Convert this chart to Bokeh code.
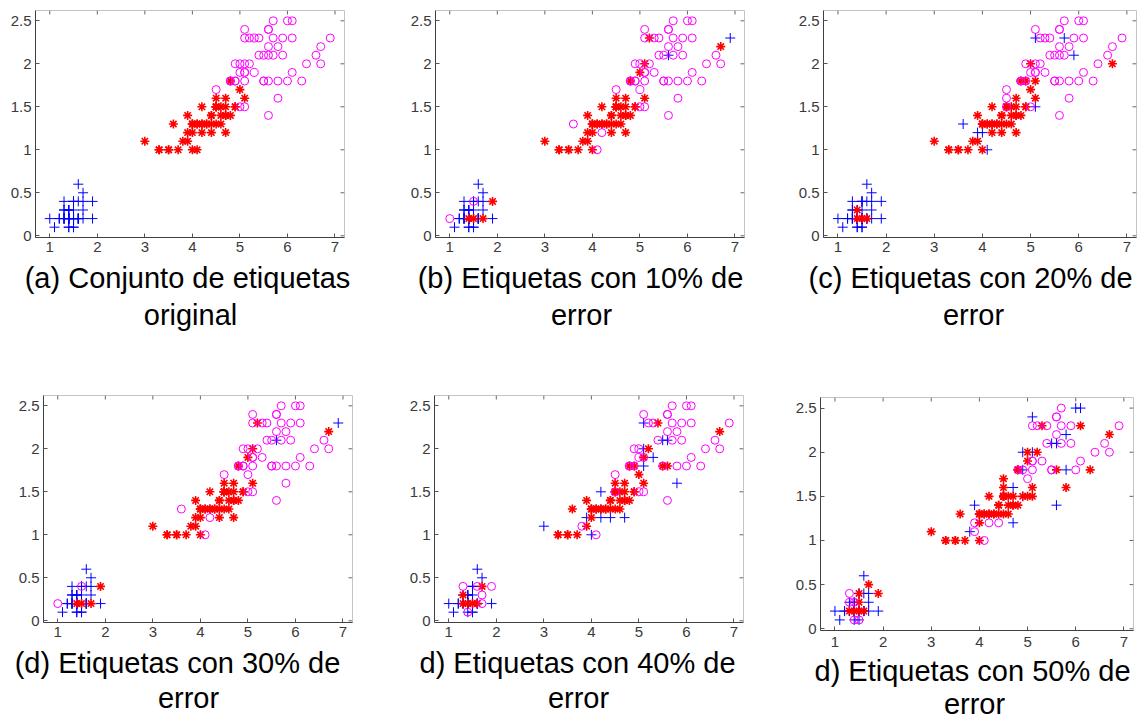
from bokeh.plotting import figure
from bokeh.layouts import row, column
from bokeh.models import Range1d, LinearAxis, FixedTicker, Title, ColumnDataSource
from bokeh.embed import file_html
from bokeh.resources import INLINE

# Iris petal length / petal width (setosa, versicolor, virginica)
petal_length = [
    1.4, 1.4, 1.3, 1.5, 1.4, 1.7, 1.4, 1.5, 1.4, 1.5, 1.5, 1.6, 1.4, 1.1, 1.2, 1.5, 1.3, 1.4, 1.7, 1.5,
    1.7, 1.5, 1.0, 1.7, 1.9, 1.6, 1.6, 1.5, 1.4, 1.6, 1.6, 1.5, 1.5, 1.4, 1.5, 1.2, 1.3, 1.4, 1.3, 1.5,
    1.3, 1.3, 1.3, 1.6, 1.9, 1.4, 1.6, 1.4, 1.5, 1.4,
    4.7, 4.5, 4.9, 4.0, 4.6, 4.5, 4.7, 3.3, 4.6, 3.9, 3.5, 4.2, 4.0, 4.7, 3.6, 4.4, 4.5, 4.1, 4.5, 3.9,
    4.8, 4.0, 4.9, 4.7, 4.3, 4.4, 4.8, 5.0, 4.5, 3.5, 3.8, 3.7, 3.9, 5.1, 4.5, 4.5, 4.7, 4.4, 4.1, 4.0,
    4.4, 4.6, 4.0, 3.3, 4.2, 4.2, 4.2, 4.3, 3.0, 4.1,
    6.0, 5.1, 5.9, 5.6, 5.8, 6.6, 4.5, 6.3, 5.8, 6.1, 5.1, 5.3, 5.5, 5.0, 5.1, 5.3, 5.5, 6.7, 6.9, 5.0,
    5.7, 4.9, 6.7, 4.9, 5.7, 6.0, 4.8, 4.9, 5.6, 5.8, 6.1, 6.4, 5.6, 5.1, 5.6, 6.1, 5.6, 5.5, 4.8, 5.4,
    5.6, 5.1, 5.1, 5.9, 5.7, 5.2, 5.0, 5.2, 5.4, 5.1,
]
petal_width = [
    0.2, 0.2, 0.2, 0.2, 0.2, 0.4, 0.3, 0.2, 0.2, 0.1, 0.2, 0.2, 0.1, 0.1, 0.2, 0.4, 0.4, 0.3, 0.3, 0.3,
    0.2, 0.4, 0.2, 0.5, 0.2, 0.2, 0.4, 0.2, 0.2, 0.2, 0.2, 0.4, 0.1, 0.2, 0.2, 0.2, 0.2, 0.1, 0.2, 0.2,
    0.3, 0.3, 0.2, 0.6, 0.4, 0.3, 0.2, 0.2, 0.2, 0.2,
    1.4, 1.5, 1.5, 1.3, 1.5, 1.3, 1.6, 1.0, 1.3, 1.4, 1.0, 1.5, 1.0, 1.4, 1.3, 1.4, 1.5, 1.0, 1.5, 1.1,
    1.8, 1.3, 1.5, 1.2, 1.3, 1.4, 1.4, 1.7, 1.5, 1.0, 1.1, 1.0, 1.2, 1.6, 1.5, 1.6, 1.5, 1.3, 1.3, 1.3,
    1.2, 1.4, 1.2, 1.0, 1.3, 1.2, 1.3, 1.3, 1.1, 1.3,
    2.5, 1.9, 2.1, 1.8, 2.2, 2.1, 1.7, 1.8, 1.8, 2.5, 2.0, 1.9, 2.1, 2.0, 2.4, 2.3, 1.8, 2.2, 2.3, 1.5,
    2.3, 2.0, 2.0, 1.8, 2.1, 1.8, 1.8, 1.8, 2.1, 1.6, 1.9, 2.0, 2.2, 1.5, 1.4, 2.3, 2.4, 1.8, 1.8, 2.1,
    2.4, 2.3, 1.9, 2.3, 2.5, 2.3, 1.9, 2.0, 2.3, 1.8,
]
true_labels = [1] * 50 + [2] * 50 + [3] * 50

# label changes: (petal length, petal width, new label)
flips_b = [(1.0, 0.2, 3), (1.5, 0.4, 3), (1.4, 0.2, 2), (1.5, 0.2, 2), (1.7, 0.2, 2), (1.9, 0.4, 2),
           (3.6, 1.3, 3), (4.2, 1.2, 3), (4.1, 1.0, 3), (5.0, 1.7, 3),
           (5.2, 2.3, 2), (6.9, 2.3, 1), (6.7, 2.2, 2), (5.6, 2.1, 1), (5.1, 2.0, 2), (5.0, 1.9, 2)]
flips_c = [(1.4, 0.3, 2), (1.4, 0.2, 2), (1.5, 0.2, 2), (1.6, 0.2, 2),
           (3.6, 1.3, 1), (3.9, 1.2, 1), (4.0, 1.2, 1), (4.1, 1.0, 1), (4.5, 1.6, 3), (4.5, 1.5, 3),
           (5.1, 1.5, 1), (4.9, 1.8, 2), (5.1, 1.8, 2), (5.0, 2.0, 2), (5.1, 2.3, 1), (5.7, 2.3, 1),
           (5.9, 2.1, 1), (6.7, 2.0, 2)]
flips_d = [(1.0, 0.2, 3), (1.5, 0.4, 3), (1.4, 0.2, 2), (1.5, 0.2, 2), (1.7, 0.2, 2), (1.9, 0.4, 2),
           (3.6, 1.3, 3), (4.2, 1.2, 3), (4.1, 1.0, 3), (5.0, 1.7, 3),
           (5.2, 2.3, 2), (6.9, 2.3, 1), (6.7, 2.2, 2), (5.6, 2.1, 1), (5.1, 2.0, 2), (5.0, 1.9, 2)]
flips_e = [(1.3, 0.4, 3), (1.6, 0.4, 3), (1.7, 0.4, 2), (1.9, 0.4, 3), (1.3, 0.3, 2), (1.7, 0.3, 3),
           (1.3, 0.2, 2), (1.4, 0.2, 2), (1.5, 0.2, 2), (1.6, 0.2, 2), (1.7, 0.2, 3), (1.4, 0.1, 3),
           (3.0, 1.1, 1), (3.8, 1.1, 3), (3.9, 1.2, 1), (4.0, 1.0, 1), (4.1, 1.0, 3), (4.2, 1.2, 1),
           (4.4, 1.2, 1), (4.7, 1.2, 1), (4.2, 1.5, 1), (4.5, 1.5, 3),
           (4.9, 1.8, 2), (5.1, 1.8, 1), (5.3, 1.9, 1), (5.1, 1.9, 2), (5.1, 2.0, 1), (5.2, 2.0, 2),
           (5.1, 2.3, 1), (5.4, 2.3, 2), (5.5, 2.1, 1), (5.6, 2.1, 1), (5.5, 1.8, 2), (5.6, 1.8, 2),
           (5.8, 1.6, 1), (6.7, 2.2, 2)]
flips_f = [(1.7, 0.5, 2), (1.3, 0.4, 3), (1.5, 0.4, 2), (1.9, 0.4, 2), (1.3, 0.3, 3), (1.4, 0.3, 3),
           (1.5, 0.3, 2), (1.3, 0.2, 2), (1.4, 0.2, 2), (1.5, 0.2, 2), (1.6, 0.2, 2), (1.4, 0.1, 3),
           (1.5, 0.1, 3),
           (3.9, 1.4, 1), (3.8, 1.1, 1), (3.9, 1.1, 3), (3.9, 1.2, 3), (4.1, 1.0, 3), (4.2, 1.2, 3),
           (4.4, 1.2, 3), (4.7, 1.2, 1), (4.7, 1.6, 1), (4.9, 1.5, 1),
           (4.5, 1.7, 2), (5.0, 1.7, 3), (5.0, 1.5, 2), (5.1, 1.5, 2), (4.8, 1.8, 2), (4.9, 1.8, 1),
           (5.6, 1.8, 2), (5.8, 1.8, 1), (6.3, 1.8, 2), (5.8, 1.6, 2), (5.6, 1.4, 1),
           (4.9, 2.0, 1), (5.0, 2.0, 2), (5.1, 2.0, 1), (5.2, 2.0, 2), (5.0, 1.9, 2), (5.5, 2.1, 1),
           (5.6, 2.1, 1), (5.8, 2.2, 1), (6.7, 2.2, 2), (5.3, 2.3, 2), (6.1, 2.3, 2), (5.1, 2.4, 1),
           (6.0, 2.5, 1), (6.1, 2.5, 1)]

captions = [
    ("(a) Conjunto de etiquetas", "original"),
    ("(b) Etiquetas con 10% de", "error"),
    ("(c) Etiquetas con 20% de", "error"),
    ("(d) Etiquetas con 30% de", "error"),
    ("d) Etiquetas con 40% de", "error"),
    ("d) Etiquetas con 50% de", "error"),
]

x_ticks = [1, 2, 3, 4, 5, 6, 7]
x_tick_labels = ["1", "2", "3", "4", "5", "6", "7"]
y_ticks = [0, 0.5, 1, 1.5, 2, 2.5]
y_tick_labels = ["0", "0.5", "1", "1.5", "2", "2.5"]

X_LO, X_HI = 0.7, 7.2
Y_LO, Y_HI = -0.02, 2.62

class_colors = {1: "#0000ff", 2: "#ff0000", 3: "#ff00ff"}
FONT = "Liberation Sans"
CAP_SIZE = 29

# Arial / Liberation Sans advance widths (per 1000 em) used to center the captions
_W = {" ": 278, "%": 889, "(": 333, ")": 333, "C": 722, "E": 667, "a": 556, "b": 556, "c": 500,
      "d": 556, "e": 556, "g": 556, "i": 222, "j": 222, "l": 222, "n": 556, "o": 556, "q": 556,
      "r": 333, "s": 500, "t": 278, "u": 556}


def text_width(s, size):
    return sum(_W.get(ch, 556) for ch in s) * size / 1000.0


def apply_flips(flips):
    labels = list(true_labels)
    changed = set()
    for (x, y, c) in flips:
        for i in range(len(labels)):
            if (i not in changed and abs(petal_length[i] - x) < 1e-6
                    and abs(petal_width[i] - y) < 1e-6 and labels[i] != c):
                labels[i] = c
                changed.add(i)
                break
    return labels


def make_panel(labels, caption, width, height, left, right, top, bottom, centers, standoffs,
               tick_standoff=4):
    p = figure(width=width, height=height, x_range=Range1d(X_LO, X_HI), y_range=Range1d(Y_LO, Y_HI),
               output_backend="svg", toolbar_location=None,
               min_border_left=left, min_border_right=right, min_border_top=top,
               min_border_bottom=bottom, x_axis_location=None, y_axis_location=None)
    p.xgrid.visible = False
    p.ygrid.visible = False
    p.outline_line_color = "#c4c4c4"
    p.outline_line_width = 1
    p.background_fill_color = "white"
    p.border_fill_color = "white"

    def style(ax, ticks, labs, standoff):
        ax.ticker = FixedTicker(ticks=ticks)
        ax.major_label_overrides = dict(zip(ticks, labs))
        ax.minor_tick_line_color = None
        ax.major_tick_in = 4
        ax.major_tick_out = 0
        ax.axis_line_color = "#404040"
        ax.major_tick_line_color = "#555555"
        ax.major_label_text_font_size = "15px"
        ax.major_label_text_font = FONT
        ax.major_label_text_color = "#3a3a3a"
        ax.major_label_standoff = standoff

    xb = LinearAxis(); style(xb, x_ticks, x_tick_labels, tick_standoff)
    p.add_layout(xb, "below")
    yl = LinearAxis(); style(yl, y_ticks, y_tick_labels, 4)
    p.add_layout(yl, "left")

    # inward tick marks on the top and right edges of the box (4 px long)
    frame_w = width - left - right
    frame_h = height - top - bottom
    dy = 4.0 * (Y_HI - Y_LO) / frame_h
    dx = 4.0 * (X_HI - X_LO) / frame_w
    p.segment(x0=x_ticks, y0=[Y_HI] * len(x_ticks), x1=x_ticks, y1=[Y_HI - dy] * len(x_ticks),
              line_color="#666666", line_width=1)
    p.segment(x0=[X_HI] * len(y_ticks), y0=y_ticks, x1=[X_HI - dx] * len(y_ticks), y1=y_ticks,
              line_color="#666666", line_width=1)

    for cls, marker in ((1, "cross"), (2, "asterisk"), (3, "circle")):
        xs = [petal_length[i] for i in range(len(labels)) if labels[i] == cls]
        ys = [petal_width[i] for i in range(len(labels)) if labels[i] == cls]
        src = ColumnDataSource(dict(x=xs, y=ys))
        if marker == "cross":
            p.scatter("x", "y", source=src, marker="cross", size=10, line_color=class_colors[cls],
                      line_width=1)
        elif marker == "asterisk":
            p.scatter("x", "y", source=src, marker="asterisk", size=9, line_color=class_colors[cls],
                      line_width=1.6)
        else:
            p.scatter("x", "y", source=src, marker="circle", size=8, line_color=class_colors[cls],
                      fill_color=None, line_width=1)

    for line, cx, so in zip(caption, centers, standoffs):
        off = cx - left - text_width(line, CAP_SIZE) / 2.0
        t = Title(text=line, align="left", offset=off, text_font_size=f"{CAP_SIZE}px",
                  text_font_style="normal", text_font=FONT, text_color="black", standoff=so)
        p.add_layout(t, "below")
    return p


labels_a = list(true_labels)
labels_b = apply_flips(flips_b)
labels_c = apply_flips(flips_c)
labels_d = apply_flips(flips_d)
labels_e = apply_flips(flips_e)
labels_f = apply_flips(flips_f)

pa = make_panel(labels_a, captions[0], 385, 386, 35, 41, 9, 148, (187, 190), (11, -5))
pb = make_panel(labels_b, captions[1], 385, 386, 50, 26, 9, 149, (195, 196), (11, -5))
pc = make_panel(labels_c, captions[2], 371, 386, 53, 5, 10, 148, (200, 203), (11, -5))
pd = make_panel(labels_d, captions[3], 385, 333, 43, 33, 9, 97, (177, 188), (11, -10))
pe = make_panel(labels_e, captions[4], 385, 333, 49, 27, 9, 97, (192, 193), (11, -10))
pf = make_panel(labels_f, captions[5], 371, 333, 50, 8, 11, 89, (202, 204), (6, -8), tick_standoff=6)

layout = column(row(pa, pb, pc, spacing=0), row(pd, pe, column(pf, spacing=0), spacing=0), spacing=0)
open("out.html", "w").write(file_html(layout, INLINE))
